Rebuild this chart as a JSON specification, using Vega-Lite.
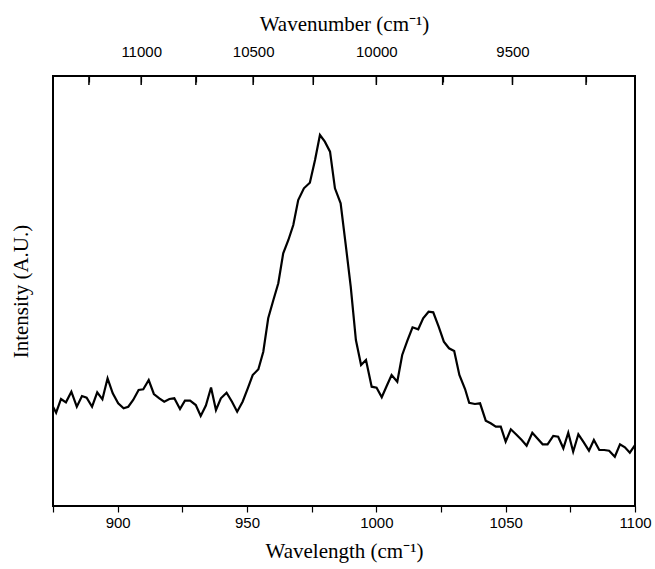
{
  "$schema": "https://vega.github.io/schema/vega-lite/v6.json",
  "width": 582,
  "height": 430,
  "autosize": {"type": "none"},
  "padding": {"left": 53, "top": 76, "right": 20, "bottom": 63},
  "background": "white",
  "config": {
    "view": {"stroke": "#000", "strokeWidth": 2},
    "axis": {"domain": false, "grid": false, "labelFont": "Liberation Sans", "labelFontSize": 15, "labelColor": "#000", "titleFont": "Liberation Serif", "titleFontSize": 21, "titleFontWeight": "normal", "titleColor": "#000", "tickColor": "#000", "tickWidth": 1.2}
  },
  "datasets": {
    "spectrum": [
    {"wl": 875.0, "i": 99.3}, {"wl": 876.2, "i": 93.3}, {"wl": 878.1, "i": 107}, {"wl": 880.0, "i": 103.7},
    {"wl": 882.1, "i": 114.3}, {"wl": 884.2, "i": 99.3}, {"wl": 886.2, "i": 110}, {"wl": 888.0, "i": 108.3},
    {"wl": 890.1, "i": 99.3}, {"wl": 892.1, "i": 113.7}, {"wl": 894.1, "i": 106.7}, {"wl": 896.1, "i": 127.7},
    {"wl": 898.1, "i": 112.7}, {"wl": 900.2, "i": 102.7}, {"wl": 902.3, "i": 97.7}, {"wl": 904.1, "i": 99.3},
    {"wl": 906.0, "i": 106}, {"wl": 908.1, "i": 116}, {"wl": 909.9, "i": 116.7}, {"wl": 912.0, "i": 126},
    {"wl": 914.0, "i": 112}, {"wl": 916.1, "i": 107.7}, {"wl": 918.0, "i": 104.3}, {"wl": 920.0, "i": 107},
    {"wl": 921.9, "i": 107.7}, {"wl": 924.1, "i": 97}, {"wl": 926.0, "i": 105.3}, {"wl": 928.0, "i": 105.3},
    {"wl": 930.2, "i": 101}, {"wl": 932.1, "i": 90}, {"wl": 934.1, "i": 100.5}, {"wl": 936.1, "i": 118.5},
    {"wl": 938.0, "i": 96}, {"wl": 939.9, "i": 107.7}, {"wl": 942.1, "i": 113.3}, {"wl": 944.2, "i": 104.3},
    {"wl": 946.2, "i": 94.3}, {"wl": 948.3, "i": 104.3}, {"wl": 950.3, "i": 117.7}, {"wl": 952.2, "i": 131},
    {"wl": 954.4, "i": 136.7}, {"wl": 956.3, "i": 154.3}, {"wl": 958.2, "i": 187.7}, {"wl": 960.2, "i": 206},
    {"wl": 962.1, "i": 222.7}, {"wl": 964.0, "i": 252.7}, {"wl": 966.0, "i": 266}, {"wl": 967.9, "i": 281},
    {"wl": 969.8, "i": 306}, {"wl": 972.0, "i": 317.7}, {"wl": 974.3, "i": 323.3}, {"wl": 976.3, "i": 346},
    {"wl": 978.2, "i": 371}, {"wl": 980.1, "i": 364.3}, {"wl": 982.1, "i": 354.3}, {"wl": 984.0, "i": 317.7},
    {"wl": 986.2, "i": 302.7}, {"wl": 988.1, "i": 262.7}, {"wl": 990.1, "i": 219.3}, {"wl": 992.1, "i": 166},
    {"wl": 994.1, "i": 141}, {"wl": 996.0, "i": 146}, {"wl": 998.2, "i": 119.3}, {"wl": 1000.1, "i": 118.3},
    {"wl": 1002.1, "i": 108.7}, {"wl": 1004.0, "i": 120}, {"wl": 1005.9, "i": 131}, {"wl": 1008.1, "i": 124.3},
    {"wl": 1010.0, "i": 151}, {"wl": 1012.0, "i": 165.3}, {"wl": 1014.0, "i": 178.7}, {"wl": 1016.2, "i": 176.7},
    {"wl": 1018.1, "i": 187.7}, {"wl": 1020.2, "i": 194.3}, {"wl": 1022.0, "i": 193.7}, {"wl": 1024.1, "i": 179.3},
    {"wl": 1026.1, "i": 164.3}, {"wl": 1028.1, "i": 157.7}, {"wl": 1030.1, "i": 155}, {"wl": 1032.1, "i": 131},
    {"wl": 1034.3, "i": 117}, {"wl": 1035.9, "i": 103.3}, {"wl": 1038.1, "i": 102}, {"wl": 1040.1, "i": 102.7},
    {"wl": 1042.3, "i": 85.3}, {"wl": 1044.2, "i": 82.7}, {"wl": 1046.2, "i": 79.3}, {"wl": 1048.1, "i": 79.3},
    {"wl": 1050.0, "i": 64.3}, {"wl": 1052.0, "i": 76.7}, {"wl": 1054.0, "i": 71.7}, {"wl": 1056.2, "i": 66},
    {"wl": 1058.1, "i": 60.3}, {"wl": 1060.3, "i": 73.3}, {"wl": 1062.2, "i": 67.7}, {"wl": 1064.3, "i": 61.7},
    {"wl": 1066.2, "i": 61.7}, {"wl": 1068.4, "i": 70}, {"wl": 1070.3, "i": 69.3}, {"wl": 1072.3, "i": 57.7},
    {"wl": 1074.2, "i": 73.3}, {"wl": 1076.1, "i": 54.3}, {"wl": 1078.1, "i": 71.7}, {"wl": 1080.0, "i": 64.3},
    {"wl": 1082.2, "i": 55.3}, {"wl": 1084.1, "i": 66}, {"wl": 1086.2, "i": 56}, {"wl": 1088.1, "i": 56},
    {"wl": 1090.0, "i": 55.3}, {"wl": 1092.2, "i": 49.3}, {"wl": 1094.2, "i": 61.7}, {"wl": 1096.1, "i": 58.7},
    {"wl": 1098.0, "i": 53.3}, {"wl": 1100.0, "i": 61}
    ],
    "topticks": [
      {"wavenumber": 11250, "wl": 888.889}, {"wavenumber": 11000, "wl": 909.091}, {"wavenumber": 10750, "wl": 930.233},
      {"wavenumber": 10500, "wl": 952.381}, {"wavenumber": 10250, "wl": 975.61}, {"wavenumber": 10000, "wl": 1000},
      {"wavenumber": 9750, "wl": 1025.641}, {"wavenumber": 9500, "wl": 1052.632}, {"wavenumber": 9250, "wl": 1081.081}
    ]
  },
  "layer": [
    {
      "data": {"name": "spectrum"},
      "mark": {"type": "line", "color": "#000", "strokeWidth": 2.2, "clip": true},
      "encoding": {
        "x": {"field": "wl", "type": "quantitative", "scale": {"domain": [875, 1100], "nice": false, "zero": false},
          "axis": {"orient": "bottom", "title": "Wavelength (cm⁻¹)", "values": [875, 900, 925, 950, 975, 1000, 1025, 1050, 1075, 1100],
            "labelExpr": "datum.value % 50 === 0 ? format(datum.value, 'd') : ''", "tickSize": 6, "labelPadding": 3, "titlePadding": 10, "labelFlush": false, "labelOverlap": false}},
        "y": {"field": "i", "type": "quantitative", "scale": {"domain": [0, 430], "nice": false},
          "axis": {"title": "Intensity (A.U.)", "labels": false, "ticks": false, "titlePadding": 22}}
      }
    },
    {
      "data": {"name": "topticks"},
      "mark": {"type": "rule", "color": "#000", "strokeWidth": 1.5},
      "encoding": {
        "x": {"field": "wl", "type": "quantitative",
          "axis": {"orient": "top", "title": "Wavenumber (cm⁻¹)", "values": [888.889, 909.091, 930.233, 952.381, 975.61, 1000, 1025.641, 1052.632, 1081.081],
            "labelExpr": "round(10000000/datum.value) % 500 === 0 ? format(round(10000000/datum.value), 'd') : ''", "offset": -6, "tickSize": 6, "labelPadding": 17, "titlePadding": 10, "labelFlush": false, "labelOverlap": false}},
        "y": {"datum": 430, "type": "quantitative"},
        "y2": {"datum": 421}
      }
    }
  ],
  "resolve": {"axis": {"x": "independent"}}
}
